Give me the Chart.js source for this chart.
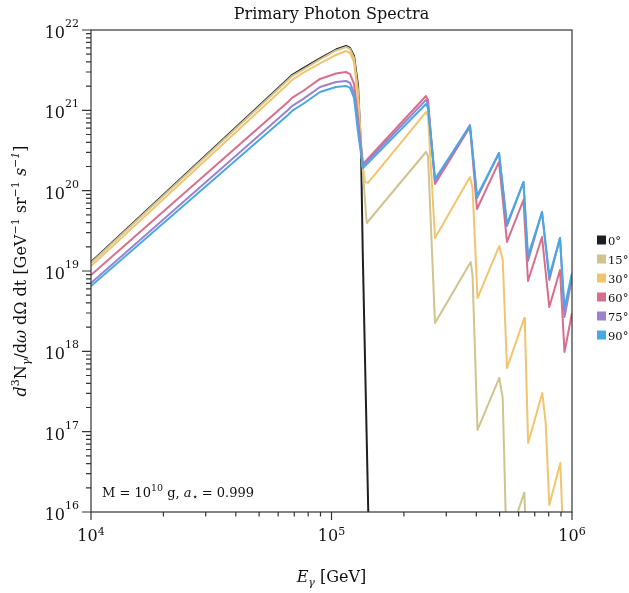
<!DOCTYPE html>
<html lang="en">
<head>
<meta charset="UTF-8">
<title>Primary Photon Spectra</title>
<script src="https://cdn.jsdelivr.net/npm/chart.js"></script>
<style>
  body { margin: 0; background: #fff; }
  #wrap { position: relative; width: 629px; height: 593px; }
</style>
</head>
<body>
<div id="wrap"><canvas id="spectra" width="629" height="593"></canvas></div>
<script>
// angles and colours of the six curves
const angles = ["0°", "15°", "30°", "60°", "75°", "90°"];
const colors = ["#1f1f1f", "#cfc48f", "#f2c46e", "#d66e8c", "#9b82cd", "#48a8e4"];

// photon energy [GeV] and flux
const energy0 = [1e4, 6.59e4, 6.85e4, 7.61e4, 8.96e4, 1.044e5, 1.149e5, 1.194e5, 1.241e5, 1.289e5, 1.327e5, 1.348e5, 1.422e5, 1.446e5];
const flux0   = [1.29e19, 2.45e21, 2.75e21, 3.32e21, 4.42e21, 5.71e21, 6.32e21, 5.97e21, 4.74e21, 2.06e21, 3.21e20, 1.82e19, 1e16, 9.3e14];

const energy15 = [1e4, 6.59e4, 6.85e4, 7.61e4, 8.96e4, 1.044e5, 1.149e5, 1.194e5, 1.241e5, 1.289e5, 1.339e5, 1.401e5,
                  2.471e5, 2.519e5, 2.694e5, 3.792e5, 3.858e5, 4.047e5, 4.985e5, 5.151e5, 5.34e5, 6.334e5, 6.561e5];
const flux15   = [1.26e19, 2.39e21, 2.67e21, 3.22e21, 4.30e21, 5.56e21, 6.14e21, 5.80e21, 4.48e21, 1.79e21, 2.41e20, 3.96e19,
                  3.03e20, 2.70e20, 2.25e18, 1.29e19, 8.91e18, 1.05e17, 4.66e17, 2.62e17, 3.88e15, 1.75e16, 1.0e15];

const energy30 = [1e4, 6.59e4, 6.85e4, 7.61e4, 8.96e4, 1.044e5, 1.149e5, 1.194e5, 1.241e5, 1.289e5, 1.339e5, 1.378e5, 1.418e5,
                  2.471e5, 2.519e5, 2.694e5, 3.766e5, 3.858e5, 4.047e5, 4.985e5, 5.151e5, 5.366e5, 6.334e5, 6.376e5, 6.571e5,
                  7.525e5, 7.774e5, 8.047e5, 8.942e5, 9.307e5];
const flux30   = [1.15e19, 2.13e21, 2.39e21, 2.92e21, 3.83e21, 4.89e21, 5.48e21, 5.18e21, 4.00e21, 1.35e21, 2.41e20, 1.28e20, 1.25e20,
                  9.53e20, 8.49e20, 2.58e19, 1.48e20, 1.08e20, 4.61e18, 2.05e19, 1.37e19, 6.19e17, 2.60e18, 1.84e18, 7.22e16,
                  3.03e17, 1.28e17, 1.22e16, 4.07e16, 1.64e15];

// 60°, 75° and 90° share one energy grid
const energyHigh = [1e4, 6.59e4, 6.85e4, 7.61e4, 8.96e4, 1.044e5, 1.149e5, 1.194e5, 1.241e5, 1.289e5, 1.352e5,
                    2.471e5, 2.519e5, 2.694e5, 3.766e5, 4.027e5, 4.972e5, 5.366e5, 6.284e5, 6.561e5, 7.505e5, 8.047e5,
                    8.915e5, 9.307e5, 1e6];
const flux60 = [8.91e18, 1.27e21, 1.43e21, 1.74e21, 2.46e21, 2.87e21, 3.00e21, 2.83e21, 2.13e21, 8.04e20, 2.15e20,
                1.51e21, 1.35e21, 1.21e20, 6.20e20, 5.92e19, 2.28e20, 2.30e19, 7.66e19, 7.50e18, 2.65e19, 3.56e18,
                1.03e19, 9.82e17, 3.00e18];
const flux75 = [7.09e18, 1.01e21, 1.13e21, 1.38e21, 1.95e21, 2.25e21, 2.32e21, 2.19e21, 1.64e21, 6.57e20, 2.03e20,
                1.35e21, 1.20e21, 1.32e20, 6.57e20, 8.11e19, 2.94e20, 3.63e19, 1.28e20, 1.33e19, 5.42e19, 7.73e18,
                2.58e19, 2.67e18, 8.18e18];
const flux90 = [6.50e18, 8.75e20, 9.82e20, 1.20e21, 1.69e21, 1.95e21, 2.01e21, 1.90e21, 1.43e21, 5.37e20, 1.91e20,
                1.20e21, 1.07e21, 1.40e20, 6.38e20, 8.59e19, 2.94e20, 3.85e19, 1.28e20, 1.54e19, 5.42e19, 8.67e18,
                2.58e19, 3.46e18, 9.44e18];

// decades used for tick labels
const xPowers = [4, 5, 6];
const yPowers = [16, 17, 18, 19, 20, 21, 22];

const series = [
  [energy0, flux0], [energy15, flux15], [energy30, flux30],
  [energyHigh, flux60], [energyHigh, flux75], [energyHigh, flux90]
];

const SERIF = '"DejaVu Serif", serif';
function font(size, italic) {
  return (italic ? 'italic ' : '') + size + 'px ' + SERIF;
}

// runs: [text, size, italic, dy]
function drawRuns(ctx, runs, x, y, align) {
  let w = 0;
  runs.forEach(r => { ctx.font = font(r[1], r[2]); w += ctx.measureText(r[0]).width; });
  let cx = align === 'right' ? x - w : align === 'center' ? x - w / 2 : x;
  runs.forEach(r => {
    ctx.font = font(r[1], r[2]);
    ctx.fillText(r[0], cx, y + (r[3] || 0));
    cx += ctx.measureText(r[0]).width;
  });
}

const decor = {
  id: 'decor',
  afterDraw(chart) {
    const ctx = chart.ctx;
    const area = chart.chartArea;
    const xs = chart.scales.x, ys = chart.scales.y;
    ctx.save();
    ctx.fillStyle = '#111';
    ctx.textBaseline = 'alphabetic';

    // frame
    ctx.strokeStyle = '#333';
    ctx.lineWidth = 1.2;
    ctx.strokeRect(area.left, area.top, area.right - area.left, area.bottom - area.top);

    // ticks
    ctx.beginPath();
    xPowers.forEach((p, i) => {
      const px = xs.getPixelForValue(Math.pow(10, p));
      ctx.moveTo(px, area.bottom); ctx.lineTo(px, area.bottom + 8);
      if (i < xPowers.length - 1) {
        for (let m = 2; m < 10; m++) {
          const mx = xs.getPixelForValue(m * Math.pow(10, p));
          ctx.moveTo(mx, area.bottom); ctx.lineTo(mx, area.bottom + 4.5);
        }
      }
    });
    yPowers.forEach((p, i) => {
      const py = ys.getPixelForValue(Math.pow(10, p));
      ctx.moveTo(area.left, py); ctx.lineTo(area.left - 9, py);
      if (i < yPowers.length - 1) {
        for (let m = 2; m < 10; m++) {
          const my = ys.getPixelForValue(m * Math.pow(10, p));
          ctx.moveTo(area.left, my); ctx.lineTo(area.left - 5, my);
        }
      }
    });
    ctx.stroke();

    // tick labels
    xPowers.forEach(p => {
      const px = xs.getPixelForValue(Math.pow(10, p));
      drawRuns(ctx, [['10', 16, false, 0], [String(p), 11, false, -6]], px, area.bottom + 29, 'center');
    });
    yPowers.forEach(p => {
      const py = ys.getPixelForValue(Math.pow(10, p));
      drawRuns(ctx, [['10', 16, false, 0], [String(p), 11, false, -11]], area.left - 12, py + 8, 'right');
    });

    const midX = (area.left + area.right) / 2;
    const midY = (area.top + area.bottom) / 2;

    // title
    drawRuns(ctx, [['Primary Photon Spectra', 16, false, 0]], midX, 19, 'center');

    // x axis title
    drawRuns(ctx, [['E', 16, true, 0], ['γ', 11, true, 4], [' [GeV]', 16, false, 0]], midX, 582, 'center');

    // y axis title
    ctx.save();
    ctx.translate(26, midY);
    ctx.rotate(-Math.PI / 2);
    drawRuns(ctx, [
      ['d', 16, true, 0], ['3', 11, false, -7], ['N', 16, false, 0], ['γ', 11, true, 4],
      ['/d', 16, false, 0], ['ω', 16, true, 0], [' dΩ dt [GeV', 16, false, 0], ['−1', 11, false, -7],
      [' sr', 16, false, 0], ['−1', 11, false, -7], [' ', 16, false, 0], ['s', 16, true, 0],
      ['−1', 11, true, -7], [']', 16, false, 0]
    ], 0, 0, 'center');
    ctx.restore();

    // annotation
    drawRuns(ctx, [
      ['M = 10', 13, false, 0], ['10', 9.5, false, -6], [' g, ', 13, false, 0],
      ['a', 13, true, 0], ['⋆', 9.5, false, 3], [' = 0.999', 13, false, 0]
    ], area.left + 11, area.bottom - 15, 'left');

    // legend
    const legX = area.right + 25;
    const legTop = midY - 31;
    angles.forEach((a, i) => {
      const cy = legTop + i * 19;
      ctx.fillStyle = colors[i];
      ctx.fillRect(legX, cy - 4.5, 9, 9);
      ctx.fillStyle = '#111';
      drawRuns(ctx, [[a, 11.5, false, 0]], legX + 11, cy + 4.5, 'left');
    });

    ctx.restore();
  }
};

const datasets = series.map((s, i) => ({
  label: angles[i],
  data: s[0].map((e, k) => ({ x: e, y: s[1][k] })),
  borderColor: colors[i],
  borderWidth: 2,
  borderJoinStyle: 'round',
  pointRadius: 0,
  tension: 0,
  fill: false,
  order: series.length - i
}));

new Chart(document.getElementById('spectra'), {
  type: 'line',
  data: { datasets },
  options: {
    responsive: false,
    animation: false,
    layout: { padding: { top: 30, right: 57, left: 0, bottom: 0 } },
    plugins: { legend: { display: false }, tooltip: { enabled: false } },
    scales: {
      x: {
        type: 'logarithmic', min: 1e4, max: 1e6,
        grid: { display: false }, border: { display: false },
        ticks: { display: false },
        afterFit: s => { s.height = 81; }
      },
      y: {
        type: 'logarithmic', min: 1e16, max: 1e22,
        grid: { display: false }, border: { display: false },
        ticks: { display: false },
        afterFit: s => { s.width = 91; }
      }
    }
  },
  plugins: [decor]
});
</script>
</body>
</html>
